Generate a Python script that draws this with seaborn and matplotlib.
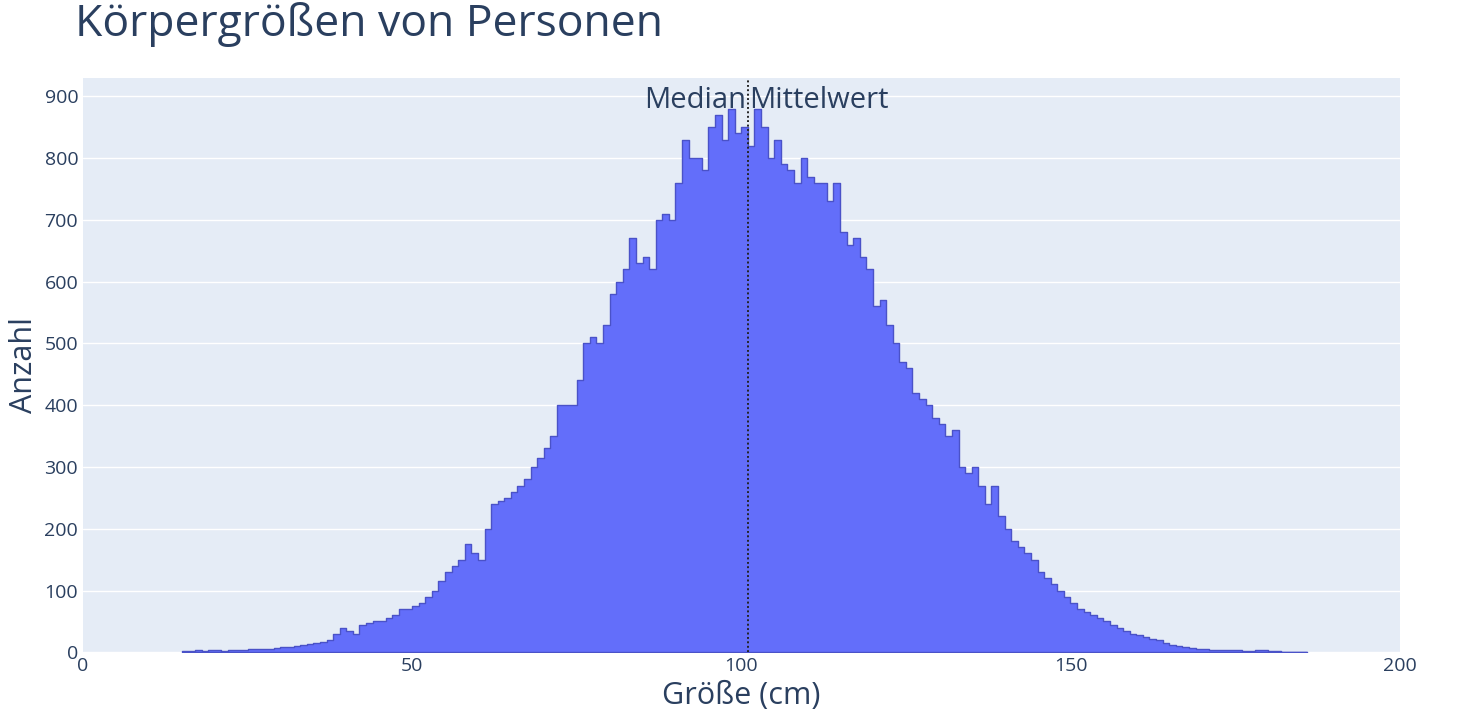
import pandas as pd
import seaborn as sns
import matplotlib.pyplot as plt

# bin start (cm) and count per bin
groesse = list(range(15, 186))
anzahl = [2, 2, 3, 2, 3, 3, 2, 4, 3, 4,                  # 15-24
          5, 5, 6, 6, 7, 8, 9, 10, 12, 14,               # 25-34
          15, 17, 20, 30, 40, 35, 30, 45, 48, 50,        # 35-44
          50, 55, 60, 70, 70, 75, 80, 90, 100, 115,      # 45-54
          130, 140, 150, 175, 160, 150, 200, 240, 245, 250,  # 55-64
          260, 270, 280, 300, 315, 330, 350, 400, 400, 400,  # 65-74
          440, 500, 510, 500, 530, 580, 600, 620, 670, 630,  # 75-84
          640, 620, 700, 710, 700, 760, 830, 800, 800, 780,  # 85-94
          850, 870, 830, 880, 840, 850, 820, 880, 850, 800,  # 95-104
          830, 790, 780, 760, 800, 770, 760, 760, 730, 760,  # 105-114
          680, 660, 670, 640, 620, 560, 570, 530, 500, 470,  # 115-124
          460, 420, 410, 400, 380, 370, 350, 360, 300, 290,  # 125-134
          300, 270, 240, 270, 220, 200, 180, 170, 160, 150,  # 135-144
          130, 120, 110, 100, 90, 80, 70, 65, 60, 55,    # 145-154
          50, 45, 40, 35, 30, 28, 25, 22, 20, 15,        # 155-164
          12, 10, 8, 7, 6, 5, 4, 4, 3, 3,                # 165-174
          3, 2, 2, 3, 4, 2, 2, 1, 1, 1, 1]               # 175-185
median_wert = 101.0
mittel_wert = 101.0

df = pd.DataFrame({"groesse": [g + 0.5 for g in groesse], "anzahl": anzahl})

sns.set_theme(style="darkgrid", rc={"axes.facecolor": "#E5ECF6", "grid.color": "white"})
plt.rcParams['font.family'] = ['Open Sans', 'DejaVu Sans']

fig = plt.figure(figsize=(14.64, 7.2), dpi=100)
ax = fig.add_axes([0.0567, 0.094, 0.8993, 0.798])

sns.histplot(data=df, x="groesse", weights="anzahl", binwidth=1, binrange=(15, 186),
             element="step", color="#636EFA", alpha=1, edgecolor="#4a52c8", linewidth=1, ax=ax)

ax.axvline(median_wert, color="#222222", linestyle=":", linewidth=1.2)
ax.axvline(mittel_wert, color="#222222", linestyle=":", linewidth=1.2)
ax.text(median_wert - 0.2, 893, "Median", ha="right", va="center", fontsize=21, color="#2a3f5f")
ax.text(mittel_wert + 0.2, 893, "Mittelwert", ha="left", va="center", fontsize=21, color="#2a3f5f")

ax.set_xlim(0, 200)
ax.set_ylim(0, 930)
ax.set_xticks([0, 50, 100, 150, 200])
ax.set_yticks(range(0, 901, 100))
ax.grid(axis="x", visible=False)
ax.tick_params(labelsize=14, colors="#2a3f5f", length=0)
ax.set_xlabel("Größe (cm)", fontsize=22, color="#2a3f5f")
ax.set_ylabel("Anzahl", fontsize=22, color="#2a3f5f")
for s in ax.spines.values():
    s.set_visible(False)

fig.text(0.051, 0.935, "Körpergrößen von Personen", fontsize=32, color="#2a3f5f", va="bottom")

fig.savefig("out.png")
